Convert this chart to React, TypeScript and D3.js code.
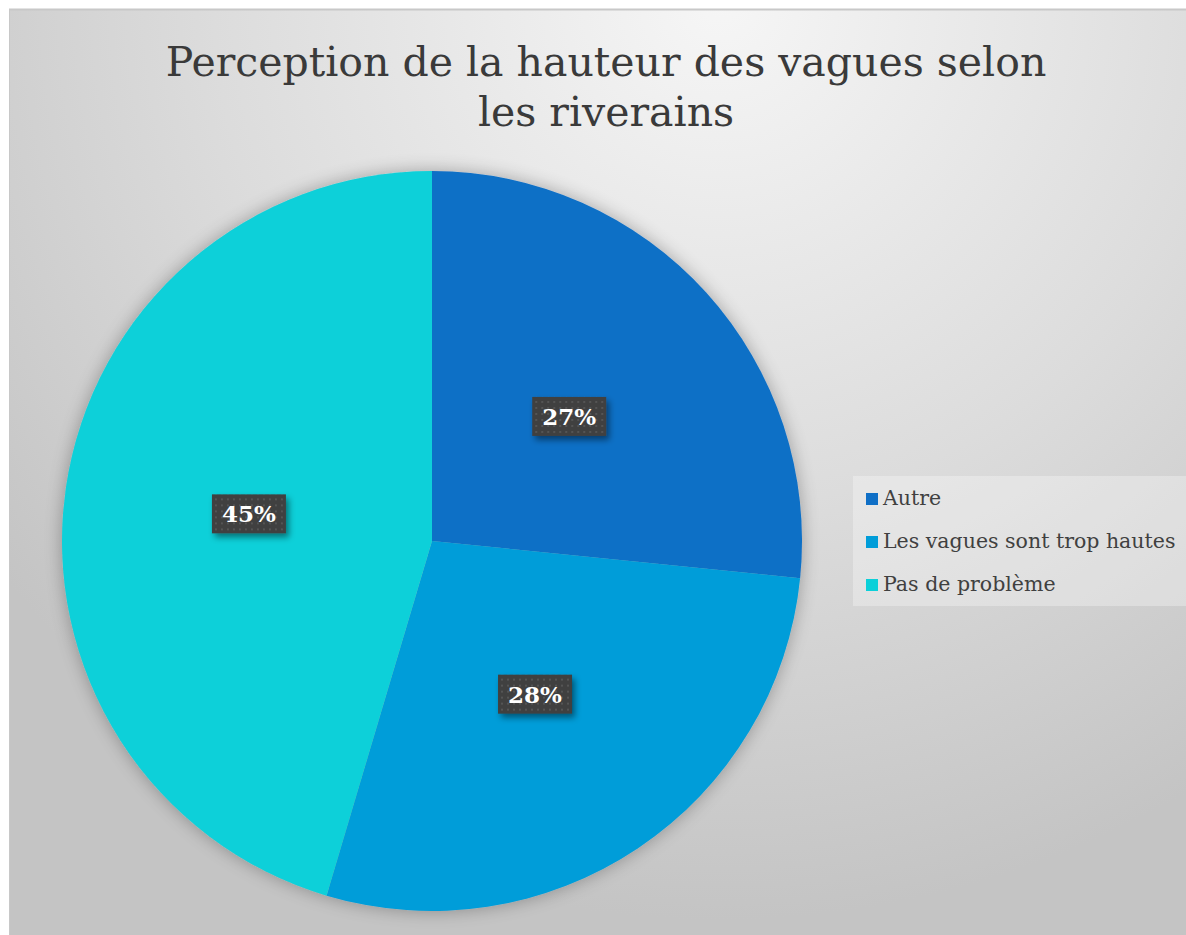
import React from 'react';
import * as d3 from 'd3';

const categories = ['Autre', 'Les vagues sont trop hautes', 'Pas de problème'];
const shares = [26.6, 28.0, 45.4];
const colors = ['#0F6FC6', '#009DD9', '#0BD0D9'];
const titleLines = ['Perception de la hauteur des vagues selon', 'les riverains'];

const W = 1186;
const H = 935;
const cx = 432;
const cy = 541;
const radius = 370;

export default function App() {
  const total = d3.sum(shares);
  const slices = d3
    .pie<number>()
    .sort(null)
    .value((d) => d)(shares);

  const arc = d3.arc<d3.PieArcDatum<number>>().innerRadius(0).outerRadius(radius);
  const labelArc = d3
    .arc<d3.PieArcDatum<number>>()
    .innerRadius(radius * 0.5)
    .outerRadius(radius * 0.5);

  const serif = '"DejaVu Serif", "Liberation Serif", serif';

  return (
    <svg
      width={W}
      height={H}
      style={{ position: 'absolute', left: 0, top: 0, display: 'block' }}
    >
      <defs>
        <radialGradient id="bg" gradientUnits="userSpaceOnUse" cx={720} cy={0} r={920}>
          <stop offset="0" stopColor="#f6f6f6" />
          <stop offset="0.55" stopColor="#dcdcdc" />
          <stop offset="1" stopColor="#c4c4c4" />
        </radialGradient>
        <filter id="pieGlow" x="-20%" y="-20%" width="140%" height="140%">
          <feGaussianBlur in="SourceAlpha" stdDeviation="9" />
          <feComponentTransfer>
            <feFuncA type="linear" slope="0.3" />
          </feComponentTransfer>
          <feMerge>
            <feMergeNode />
            <feMergeNode in="SourceGraphic" />
          </feMerge>
        </filter>
        <filter id="boxShadow" x="-30%" y="-30%" width="160%" height="170%">
          <feDropShadow dx="3" dy="4" stdDeviation="3" floodColor="#000" floodOpacity="0.45" />
        </filter>
        <pattern id="dots" width="6" height="6" patternUnits="userSpaceOnUse">
          <rect width="6" height="6" fill="#3f3f3f" />
          <rect x="2" y="2" width="2" height="2" fill="#555" />
        </pattern>
      </defs>

      <rect width={W} height={H} fill="#fff" />
      <rect x={9} y={9} width={W} height={H} fill="url(#bg)" />
      <line x1={9} x2={W} y1={9.5} y2={9.5} stroke="#c8c8c8" strokeWidth={2} />
      <line x1={9.5} x2={9.5} y1={9} y2={H} stroke="#c8c8c8" strokeWidth={1} />

      {titleLines.map((t, i) => (
        <text
          key={t}
          x={606}
          y={76 + i * 50}
          textAnchor="middle"
          fontFamily={serif}
          fontSize={41}
          fill="#3a3a3a"
        >
          {t}
        </text>
      ))}

      <g transform={`translate(${cx},${cy})`} filter="url(#pieGlow)">
        {slices.map((s, i) => (
          <path key={categories[i]} d={arc(s) || ''} fill={colors[i]} />
        ))}
      </g>

      <g transform={`translate(${cx},${cy})`}>
        {slices.map((s, i) => {
          const [lx, ly] = labelArc.centroid(s);
          const label = `${Math.round((s.value / total) * 100)}%`;
          return (
            <g key={categories[i]} transform={`translate(${lx},${ly})`}>
              <rect
                x={-37}
                y={-20}
                width={74}
                height={39}
                fill="url(#dots)"
                filter="url(#boxShadow)"
              />
              <text
                y={8}
                textAnchor="middle"
                fontFamily={serif}
                fontWeight="bold"
                fontSize={23}
                fill="#fff"
              >
                {label}
              </text>
            </g>
          );
        })}
      </g>

      <g>
        <rect x={853} y={476} width={W - 853} height={130} fill="#fff" fillOpacity={0.3} />
        {categories.map((c, i) => (
          <g key={c} transform={`translate(866,${505 + i * 43})`}>
            <rect x={0} y={-12} width={12} height={12} fill={colors[i]} />
            <text x={17} y={0} fontFamily={serif} fontSize={20.5} fill="#404040">
              {c}
            </text>
          </g>
        ))}
      </g>
    </svg>
  );
}
